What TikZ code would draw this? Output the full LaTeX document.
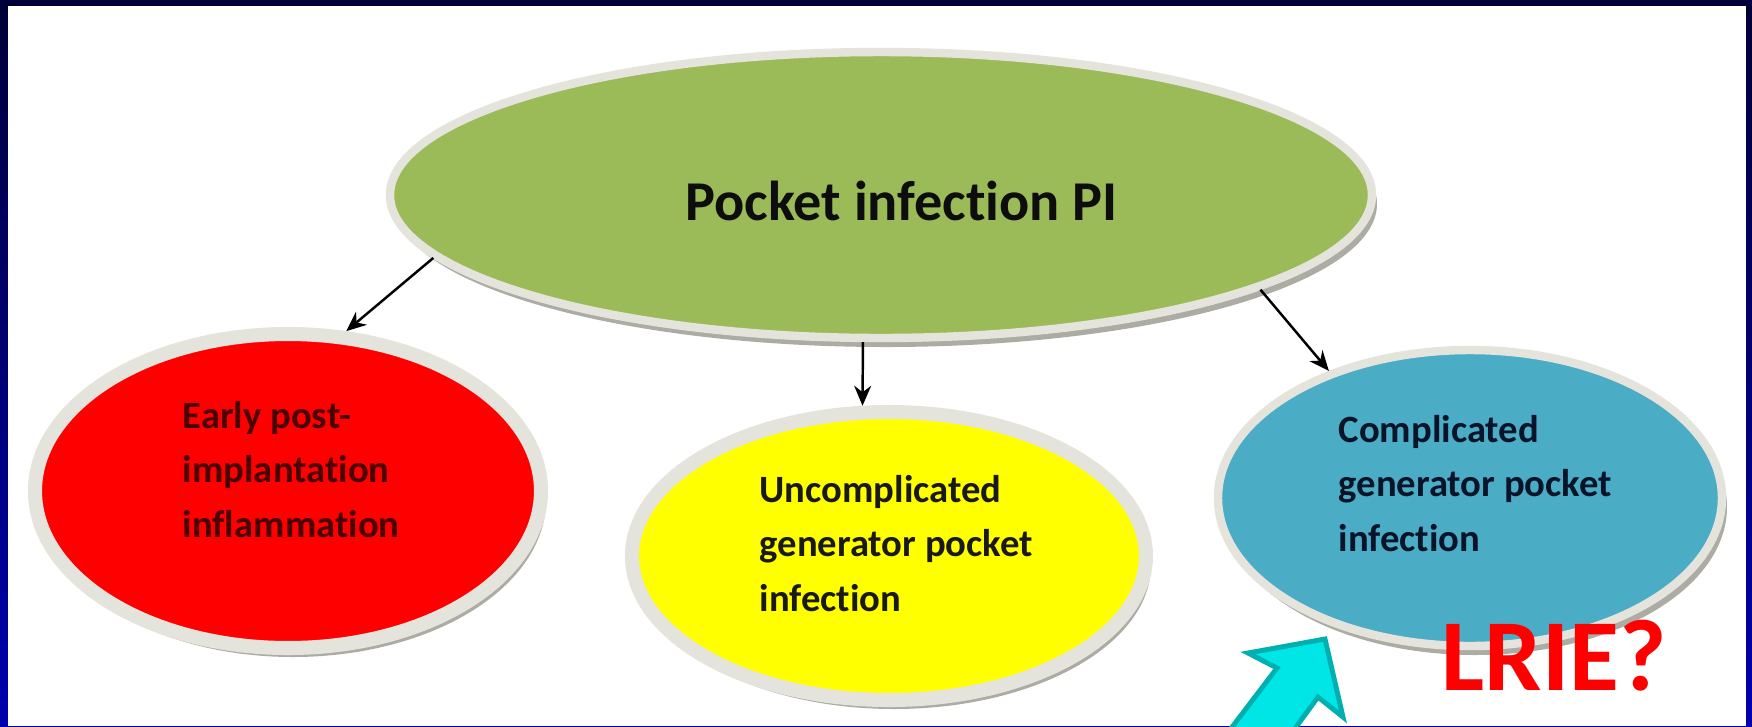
\documentclass[tikz,border=0pt]{standalone}
\usepackage{fontspec}
\setmainfont{Carlito}[Ligatures={NoCommon,NoRare,NoContextual}]
\usepackage{tikz}
\usetikzlibrary{arrows.meta,shapes.geometric,shadows}

\definecolor{navytop}{HTML}{000038}
\definecolor{navybot}{HTML}{0000B0}
\definecolor{rimgrey}{HTML}{E4E4DC}
\definecolor{shadowgrey}{HTML}{A4A49C}
\definecolor{pocketgreen}{HTML}{9BBB59}
\definecolor{earlyred}{HTML}{FF0000}
\definecolor{uncompyellow}{HTML}{FFFF00}
\definecolor{complblue}{HTML}{4BACC6}
\definecolor{cyanfill}{HTML}{00E6E6}
\definecolor{cyandraw}{HTML}{00B0B0}

\begin{document}
\begin{tikzpicture}[x=0.1mm, y=-0.1mm, >=Stealth,
    bubble/.style={ellipse, inner sep=0pt, draw=rimgrey, line width=2.4pt,
        drop shadow={shadow xshift=0.5mm, shadow yshift=-0.9mm, fill=shadowgrey, opacity=0.9}},
    bubbletext/.style={anchor=north west, inner sep=0pt, align=left,
        font=\fontsize{11}{15.4}\selectfont\bfseries},
    link/.style={-{Stealth[length=2mm,width=1.7mm]}, line width=0.7pt}]

    %% Background
    \shade[top color=navytop, bottom color=navybot] (0,0) rectangle (1752,726);
    \fill[white] (8,6) rectangle (1746,726);
    \useasboundingbox (0,0) rectangle (1752,726);

    %% Ellipses
    \node[bubble, fill=pocketgreen, minimum width=98.2mm, minimum height=28.6mm] (pocket) at (881,195) {};
    \node[bubble, fill=earlyred, line width=4pt, minimum width=50.6mm, minimum height=31.4mm] (early) at (288,491) {};
    \node[bubble, fill=uncompyellow, line width=4pt, minimum width=51.4mm, minimum height=28.8mm] (uncomp) at (889,556) {};
    \node[bubble, fill=complblue, minimum width=50.4mm, minimum height=29.6mm] (compl) at (1470,498) {};

    %% Texts
    \node[anchor=base west, inner sep=0pt, font=\fontsize{16}{19}\selectfont\bfseries, text=black!95]
        (pockettext) at ([shift={(-196,25)}]pocket.center) {Pocket infection PI};
    \node[bubbletext, text={rgb,255:red,74;green,0;blue,0}]
        (earlytext) at ([shift={(-106,-90)}]early.center) {Early post-\\implantation\\inflammation};
    \node[bubbletext, text=black!90]
        (uncomptext) at ([shift={(-130,-81)}]uncomp.center) {Uncomplicated\\generator pocket\\infection};
    \node[bubbletext, text={rgb,255:red,10;green,20;blue,40}]
        (compltext) at ([shift={(-132,-83)}]compl.center) {Complicated\\generator pocket\\infection};

    %% Arrows
    \draw[link] (pocket.188) -- (early.70);
    \draw[link] (pocket.263) -- (uncomp.100);
    \draw[link] (pocket.346) -- (compl.138);

    %% Block arrow
    \begin{scope}
    \clip (0,0) rectangle (1752,726);
    \draw[fill=cyanfill, draw=cyandraw, line width=1.4pt, line join=miter]
        (1325,639) -- (1343,717) -- (1318,697) -- (1272,760) -- (1207,760)
        -- (1277,668) -- (1248,653) -- cycle;
    \end{scope}

    \node[anchor=base west, inner sep=0pt, font=\fontsize{29}{30}\selectfont\bfseries, text=red]
        (lrie) at (1441,690) {LRIE?};

\end{tikzpicture}
\end{document}
